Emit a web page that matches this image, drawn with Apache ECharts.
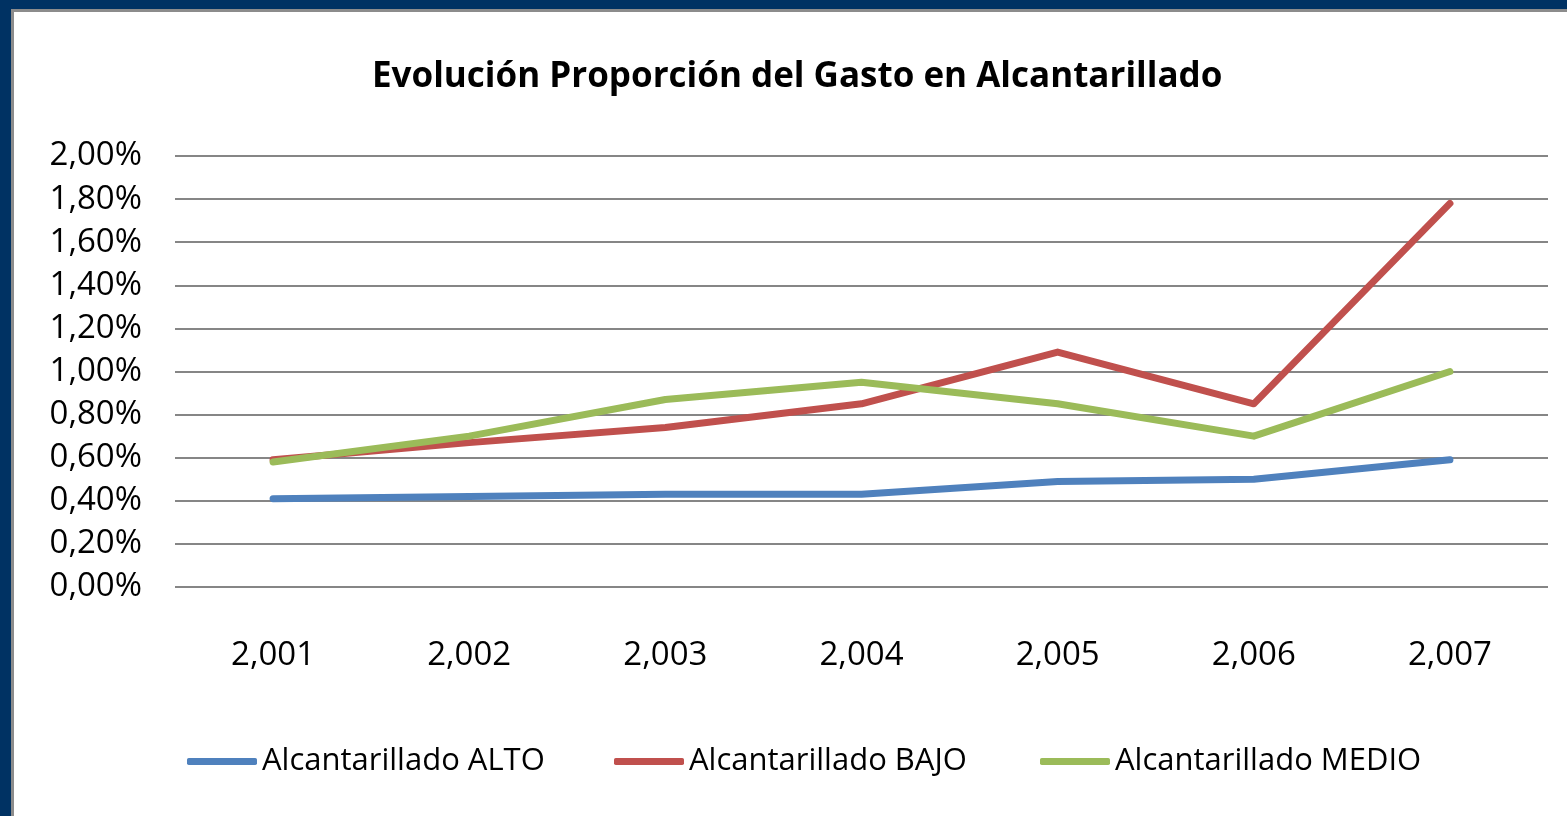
<!DOCTYPE html>
<html>
<head>
<meta charset="utf-8">
<script src="https://cdn.jsdelivr.net/npm/echarts@6/dist/echarts.min.js"></script>
<style>
  html, body { margin: 0; padding: 0; width: 1567px; height: 816px; overflow: hidden; background: #003263; }
  #frame { position: absolute; left: 11px; top: 9px; width: 1553px; height: 804px; background: #ffffff;
           border-left: 3px solid #8c8c8c; border-top: 3px solid #8c8c8c; }
  #chart { position: absolute; left: 0; top: 0; width: 1567px; height: 816px; }
</style>
</head>
<body>
<div id="frame"></div>
<div id="chart"></div>
<script>
const categories = ['2,001', '2,002', '2,003', '2,004', '2,005', '2,006', '2,007'];
const alto  = [0.41, 0.42, 0.43, 0.43, 0.49, 0.50, 0.59];
const bajo  = [0.59, 0.67, 0.74, 0.85, 1.09, 0.85, 1.78];
const medio = [0.58, 0.70, 0.87, 0.95, 0.85, 0.70, 1.00];
const seriesNames = ['Alcantarillado ALTO', 'Alcantarillado BAJO', 'Alcantarillado MEDIO'];
const colors = ['#4f81bd', '#c0504d', '#9bbb59'];

const font = 'Open Sans';
const chart = echarts.init(document.getElementById('chart'), null, { renderer: 'canvas' });
const legendLefts = [187, 614, 1040];
const seriesData = [alto, bajo, medio];

chart.setOption({
  backgroundColor: 'transparent',
  animation: false,
  title: {
    text: 'Evolución Proporción del Gasto en Alcantarillado',
    left: 372,
    top: 60,
    padding: 0,
    textStyle: { fontFamily: font, fontWeight: 'bold', fontSize: 35, color: '#000000' }
  },
  legend: seriesNames.map((n, i) => ({
    data: [n],
    left: legendLefts[i],
    top: 746,
    padding: 0,
    itemWidth: 70,
    itemHeight: 7,
    itemGap: 6,
    icon: 'roundRect',
    textStyle: { fontFamily: font, fontSize: 31, color: '#000000' }
  })),
  grid: { left: 175, right: 19, top: 156, bottom: 229, containLabel: false },
  xAxis: {
    type: 'category',
    data: categories,
    boundaryGap: true,
    axisLine: { show: false },
    axisTick: { show: false },
    axisLabel: { fontFamily: font, fontSize: 33, color: '#000000', margin: 52 }
  },
  yAxis: {
    type: 'value',
    min: 0, max: 2, interval: 0.2,
    axisLine: { show: false },
    axisTick: { show: false },
    splitLine: { lineStyle: { color: '#868686', width: 2 } },
    axisLabel: {
      fontFamily: font, fontSize: 33, color: '#000000', margin: 33,
      formatter: v => v.toFixed(2).replace('.', ',') + '%'
    }
  },
  series: seriesNames.map((n, i) => ({
    name: n,
    type: 'line',
    data: seriesData[i],
    symbol: 'none',
    lineStyle: { color: colors[i], width: 7, cap: 'round', join: 'round' },
    itemStyle: { color: colors[i] }
  }))
});
</script>
</body>
</html>
